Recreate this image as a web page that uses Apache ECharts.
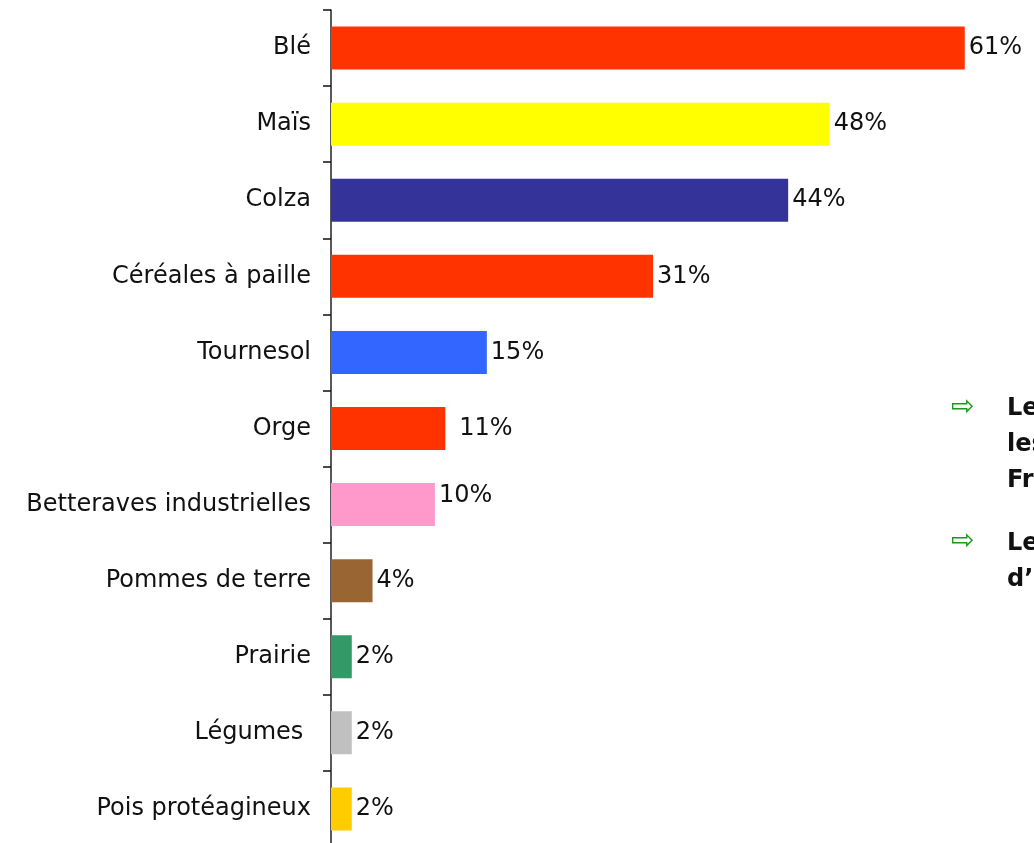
<!DOCTYPE html>
<html>
<head>
<meta charset="utf-8">
<script src="https://cdn.jsdelivr.net/npm/echarts@6/dist/echarts.min.js"></script>
<style>html,body{margin:0;padding:0;background:#fff;}#c{width:1034px;height:843px;}</style>
</head>
<body>
<div id="c"></div>
<script>
const categories = ["Blé", "Maïs", "Colza", "Céréales à paille", "Tournesol", "Orge", "Betteraves industrielles", "Pommes de terre", "Prairie", "Légumes ", "Pois protéagineux"];
const values = [61, 48, 44, 31, 15, 11, 10, 4, 2, 2, 2];
const colors = ["#FF3300", "#FFFF00", "#333399", "#FF3300", "#3366FF", "#FF3300", "#FF99CC", "#996633", "#339966", "#C0C0C0", "#FFCC00"];
const sideLines = ["Les", "les", "France", "Les", "d’un"];

const chart = echarts.init(document.getElementById('c'));
const FONT = "DejaVu Sans, Verdana, sans-serif";
const data = values.map((v, i) => {
  const d = { value: v, itemStyle: { color: colors[i] } };
  if (i === 5) d.label = { offset: [10, 0] };
  if (i === 6) d.label = { offset: [0, -9] };
  return d;
});
chart.setOption({
  animation: false,
  grid: { left: 331, width: 1039, top: 10, bottom: -4, outerBoundsMode: 'none', containLabel: false },
  xAxis: { type: 'value', min: 0, max: 100, show: false },
  yAxis: {
    type: 'category', inverse: true, data: categories,
    axisLine: { show: true, lineStyle: { color: '#222', width: 1.5 } },
    axisTick: { show: true, inside: false, length: 8, lineStyle: { color: '#111', width: 1.5 } },
    axisLabel: { margin: 20, fontSize: 24, color: '#111', fontFamily: FONT }
  },
  series: [{
    type: 'bar', data: data, barWidth: 43,
    label: { show: true, position: 'right', distance: 4, formatter: '{c}%', fontSize: 24, color: '#111', fontFamily: FONT }
  }],
  graphic: [
    { type: 'text', left: 951, top: 394, style: { text: '⇨', fontSize: 28, fill: '#1a9a1a', fontFamily: FONT } },
    { type: 'text', left: 951, top: 528, style: { text: '⇨', fontSize: 28, fill: '#1a9a1a', fontFamily: FONT } },
    { type: 'text', left: 1007, top: 397, style: { text: sideLines[0], fontSize: 24, fontWeight: 'bold', fill: '#111', fontFamily: FONT } },
    { type: 'text', left: 1007, top: 433, style: { text: sideLines[1], fontSize: 24, fontWeight: 'bold', fill: '#111', fontFamily: FONT } },
    { type: 'text', left: 1007, top: 469, style: { text: sideLines[2], fontSize: 24, fontWeight: 'bold', fill: '#111', fontFamily: FONT } },
    { type: 'text', left: 1007, top: 532, style: { text: sideLines[3], fontSize: 24, fontWeight: 'bold', fill: '#111', fontFamily: FONT } },
    { type: 'text', left: 1007, top: 568, style: { text: sideLines[4], fontSize: 24, fontWeight: 'bold', fill: '#111', fontFamily: FONT } }
  ]
});
</script>
</body>
</html>
